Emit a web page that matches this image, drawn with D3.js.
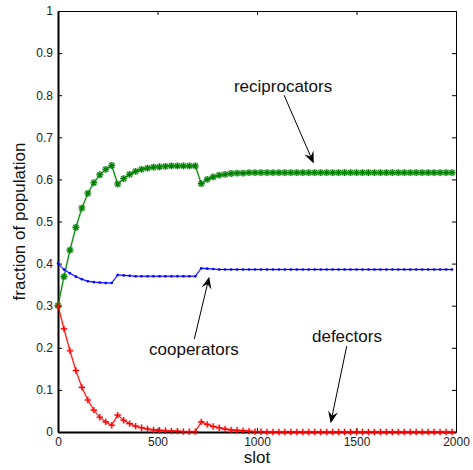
<!DOCTYPE html>
<html>
<head>
<meta charset="utf-8">
<script src="https://cdn.jsdelivr.net/npm/d3@7/dist/d3.min.js"></script>
<style>
  html, body { margin: 0; padding: 0; background: #fff; }
  svg { display: block; font-family: "Liberation Sans", Arial, Helvetica, sans-serif; }
</style>
</head>
<body>
<svg id="chart" width="473" height="470"></svg>
<script>
// ---------- data ----------
const slots = [0,30,60,90,120,150,180,210,240,270,300,330,360,390,420,450,480,510,540,570,
  600,630,660,690,720,750,780,810,840,870,900,930,960,990,1020,1050,1080,1110,1140,1170,
  1200,1230,1260,1290,1320,1350,1380,1410,1440,1470,1500,1530,1560,1590,1620,1650,1680,1710,1740,1770,
  1800,1830,1860,1890,1920,1950,1980];

const reciprocators = [0.300,0.369,0.432,0.486,0.532,0.567,0.592,0.611,0.624,0.633,
  0.589,0.602,0.612,0.619,0.624,0.627,0.629,0.630,0.631,0.632,
  0.632,0.632,0.632,0.632,0.590,0.600,0.606,0.610,0.612,0.614,
  0.615,0.615,0.616,0.616,0.616,0.616,0.616,0.616,0.616,0.616,
  0.616,0.616,0.616,0.616,0.616,0.616,0.616,0.616,0.616,0.616,
  0.616,0.616,0.616,0.616,0.616,0.616,0.616,0.616,0.616,0.616,
  0.616,0.616,0.616,0.616,0.616,0.616,0.616];

const cooperators = [0.400,0.386,0.377,0.369,0.363,0.358,0.356,0.355,0.354,0.354,
  0.373,0.372,0.371,0.370,0.370,0.370,0.370,0.370,0.370,0.370,
  0.370,0.370,0.370,0.370,0.389,0.388,0.387,0.386,0.386,0.386,
  0.386,0.386,0.386,0.386,0.386,0.386,0.386,0.386,0.386,0.386,
  0.386,0.386,0.386,0.386,0.386,0.386,0.386,0.386,0.386,0.386,
  0.386,0.386,0.386,0.386,0.386,0.386,0.386,0.386,0.386,0.386,
  0.386,0.386,0.386,0.386,0.386,0.386,0.386];

const defectors = [0.300,0.245,0.193,0.146,0.106,0.076,0.052,0.035,0.024,0.016,
  0.040,0.028,0.020,0.014,0.010,0.007,0.005,0.004,0.003,0.002,
  0.002,0.001,0.001,0.001,0.024,0.018,0.013,0.010,0.007,0.005,
  0.004,0.003,0.002,0.001,0.001,0.000,0.000,0.000,0.000,0.000,
  0.000,0.000,0.000,0.000,0.000,0.000,0.000,0.000,0.000,0.000,
  0.000,0.000,0.000,0.000,0.000,0.000,0.000,0.000,0.000,0.000,
  0.000,0.000,0.000,0.000,0.000,0.000,0.000];

const xTicks = [0,500,1000,1500,2000];
const xTickLabels = ["0","500","1000","1500","2000"];
const yTicks = [0,0.1,0.2,0.3,0.4,0.5,0.6,0.7,0.8,0.9,1];
const yTickLabels = ["0","0.1","0.2","0.3","0.4","0.5","0.6","0.7","0.8","0.9","1"];

const xLabel = "slot";
const yLabel = "fraction of population";

// annotations: text anchor and arrow tail/tip in data units
const annotLabels = ["reciprocators","cooperators","defectors"];
const annotText = [[1131,0.808],[683,0.182],[1452,0.214]];
const annotTail = [[1136,0.800],[685,0.221],[1451,0.204]];
const annotTip  = [[1285,0.638],[760,0.369],[1370,0.021]];

// ---------- layout ----------
const svg = d3.select("#chart");
const L = 58, R = 456, T = 11, B = 432;
const x = d3.scaleLinear().domain([0,2000]).range([L,R]);
const y = d3.scaleLinear().domain([0,1]).range([B,T]);

const axisG = svg.append("g");
// axes
const fmtX = d => xTickLabels[xTicks.indexOf(d)];
const fmtY = d => yTickLabels[yTicks.indexOf(d)];

const gB = axisG.append("g").attr("transform",`translate(0,${B})`)
  .call(d3.axisBottom(x).tickValues(xTicks).tickFormat(fmtX).tickSizeInner(-4).tickSizeOuter(0).tickPadding(5));
const gT = axisG.append("g").attr("transform",`translate(0,${T})`)
  .call(d3.axisTop(x).tickValues(xTicks).tickFormat("").tickSizeInner(-4).tickSizeOuter(0));
const gL = axisG.append("g").attr("transform",`translate(${L},0)`)
  .call(d3.axisLeft(y).tickValues(yTicks).tickFormat(fmtY).tickSizeInner(-4).tickSizeOuter(0).tickPadding(5));
const gR = axisG.append("g").attr("transform",`translate(${R},0)`)
  .call(d3.axisRight(y).tickValues(yTicks).tickFormat("").tickSizeInner(-4).tickSizeOuter(0));

[gB,gT,gL,gR].forEach(g => {
  g.selectAll("text").attr("font-size", 12).attr("fill","#222").attr("font-family",'"Liberation Sans", Arial, sans-serif');
  g.selectAll("line").attr("stroke","#000").attr("stroke-width",1);
  g.select(".domain").attr("stroke","#000").attr("stroke-width",1);
});
gB.select(".domain").attr("stroke-width",2);
gL.select(".domain").attr("stroke-width",2);

// axis labels
svg.append("text").attr("x",(L+R)/2).attr("y",463).attr("text-anchor","middle")
  .attr("font-size",17).attr("fill","#111").text(xLabel);
svg.append("text").attr("transform",`translate(25,${(T+B)/2}) rotate(-90)`).attr("text-anchor","middle")
  .attr("font-size",17).attr("fill","#111").text(yLabel);

// ---------- series ----------
const line = d3.line().x((d,i)=>x(slots[i])).y(d=>y(d));
const dataG = svg.append("g");

function drawLine(vals, color, halo) {
  dataG.append("path").datum(vals).attr("d",line).attr("fill","none")
    .attr("stroke",halo).attr("stroke-width",2.4);
  dataG.append("path").datum(vals).attr("d",line).attr("fill","none")
    .attr("stroke",color).attr("stroke-width",1);
}

// reciprocators: asterisk markers
drawLine(reciprocators, "#008000", "rgba(0,128,0,0.25)");
const s = 3.4, s2 = 2.5;
const starPath = `M${-s},0L${s},0M0,${-s}L0,${s}M${-s2},${-s2}L${s2},${s2}M${-s2},${s2}L${s2},${-s2}`;
dataG.append("g").selectAll("path").data(reciprocators).join("path")
  .attr("transform",(d,i)=>`translate(${x(slots[i])},${y(d)})`)
  .attr("d",starPath).attr("fill","none").attr("stroke","rgba(0,128,0,0.35)").attr("stroke-width",2.6);
dataG.append("g").selectAll("path").data(reciprocators).join("path")
  .attr("transform",(d,i)=>`translate(${x(slots[i])},${y(d)})`)
  .attr("d",starPath).attr("fill","none").attr("stroke","#008000").attr("stroke-width",1.1);

// cooperators: dot markers
drawLine(cooperators, "#0000ff", "rgba(0,0,255,0.2)");
dataG.append("g").selectAll("circle").data(cooperators).join("circle")
  .attr("cx",(d,i)=>x(slots[i])).attr("cy",d=>y(d)).attr("r",1.3).attr("fill","#0000ff");

// defectors: plus markers
drawLine(defectors, "#ff0000", "rgba(255,0,0,0.2)");
const p = 3.2;
const plusPath = `M${-p},0L${p},0M0,${-p}L0,${p}`;
dataG.append("g").selectAll("path").data(defectors).join("path")
  .attr("transform",(d,i)=>`translate(${x(slots[i])},${y(d)})`)
  .attr("d",plusPath).attr("fill","none").attr("stroke","rgba(255,0,0,0.3)").attr("stroke-width",2.4);
dataG.append("g").selectAll("path").data(defectors).join("path")
  .attr("transform",(d,i)=>`translate(${x(slots[i])},${y(d)})`)
  .attr("d",plusPath).attr("fill","none").attr("stroke","#ff0000").attr("stroke-width",1.1);

// ---------- annotations ----------
const annG = svg.append("g");
annotLabels.forEach((lab,i) => {
  annG.append("text").attr("x",x(annotText[i][0])).attr("y",y(annotText[i][1]))
    .attr("text-anchor","middle").attr("font-size",17).attr("fill","#111").text(lab);
  const x0 = x(annotTail[i][0]), y0 = y(annotTail[i][1]);
  const x1 = x(annotTip[i][0]),  y1 = y(annotTip[i][1]);
  const dx = x1-x0, dy = y1-y0, len = Math.hypot(dx,dy);
  const ux = dx/len, uy = dy/len, nx = -uy, ny = ux;
  const HL = 12, HW = 5, NOTCH = 7.5;
  const bx = x1 - ux*HL, by = y1 - uy*HL;
  const mx = x1 - ux*NOTCH, my = y1 - uy*NOTCH;
  annG.append("line").attr("x1",x0).attr("y1",y0).attr("x2",mx).attr("y2",my)
    .attr("stroke","#000").attr("stroke-width",1);
  annG.append("path")
    .attr("d",`M${x1},${y1}L${bx+nx*HW},${by+ny*HW}L${mx},${my}L${bx-nx*HW},${by-ny*HW}Z`)
    .attr("fill","#000");
});
</script>
</body>
</html>
